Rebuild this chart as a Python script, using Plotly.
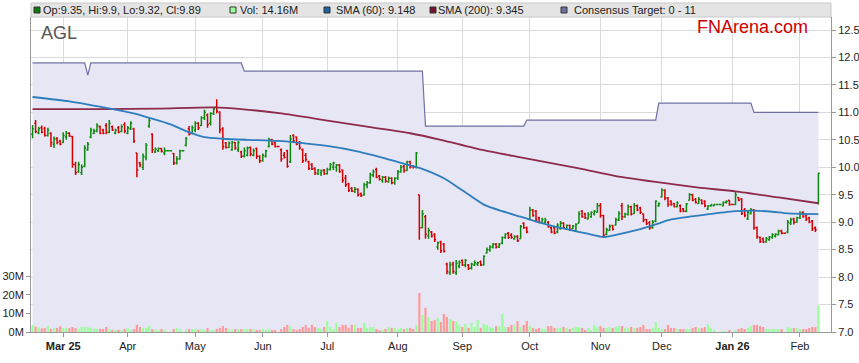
import pandas as pd
import plotly.graph_objects as go

# ---------------- data ----------------
# weekday sessions (exchange holidays appear as flat, zero-volume bars)
dates = pd.bdate_range("2025-02-17", "2026-02-10")

opens = [
    10.60, 10.80, 10.63, 10.72, 10.70, 10.58, 10.62, 10.42, 10.52, 10.48,
    10.45, 10.55, 10.62, 10.56, 10.05, 9.92, 9.90, 10.02, 10.32, 10.55,
    10.62, 10.66, 10.74, 10.68, 10.76, 10.64, 10.74, 10.62, 10.72, 10.65,
    10.78, 10.62, 10.70, 10.70, 10.26, 10.08, 10.00, 10.18, 10.75, 10.60,
    10.28, 10.30, 10.34, 10.26, 10.30, 10.30, 10.25, 10.08, 10.15, 10.30,
    10.40, 10.70, 10.62, 10.68, 10.80, 10.76, 10.90, 10.95, 10.80, 10.98,
    11.10, 11.00, 10.70, 10.44, 10.36, 10.32, 10.45, 10.32, 10.28, 10.20,
    10.22, 10.36, 10.22, 10.34, 10.20, 10.12, 10.20, 10.38, 10.50, 10.45,
    10.38, 10.32, 10.22, 10.30, 10.10, 10.58, 10.55, 10.45, 10.32, 10.22,
    10.10, 10.05, 9.98, 9.88, 9.90, 9.95, 9.88, 9.96, 10.00, 10.00,
    10.04, 9.95, 9.80, 9.70, 9.62, 9.56, 9.60, 9.52, 9.50, 9.68,
    9.72, 9.86, 9.96, 9.84, 9.76, 9.82, 9.74, 9.80, 9.72, 9.80,
    9.92, 10.02, 9.94, 10.10, 10.02, 10.00, 9.50, 8.90, 9.10, 8.75,
    8.82, 8.78, 8.55, 8.64, 8.60, 8.24, 8.08, 8.24, 8.08, 8.20,
    8.30, 8.22, 8.22, 8.16, 8.22, 8.24, 8.28, 8.22, 8.44, 8.50,
    8.55, 8.60, 8.55, 8.62, 8.72, 8.80, 8.76, 8.70, 8.74, 8.70,
    8.98, 8.90, 9.05, 9.22, 9.20, 9.08, 8.99, 9.00, 9.00, 8.90,
    8.90, 8.82, 8.88, 8.98, 8.88, 8.94, 8.88, 8.85, 8.98, 9.20,
    9.15, 9.06, 9.10, 9.15, 9.18, 9.30, 9.12, 8.78, 8.85, 8.94,
    8.95, 9.04, 9.30, 9.10, 9.14, 9.28, 9.16, 9.30, 9.26, 9.15,
    9.05, 8.99, 8.90, 9.02, 9.30, 9.46, 9.58, 9.44, 9.38, 9.34,
    9.28, 9.30, 9.24, 9.20, 9.40, 9.50, 9.42, 9.34, 9.40, 9.38,
    9.24, 9.30, 9.30, 9.32, 9.32, 9.30, 9.36, 9.40, 9.32, 9.32,
    9.45, 9.42, 9.22, 9.06, 9.16, 9.22, 8.90, 8.72, 8.70, 8.64,
    8.68, 8.72, 8.75, 8.77, 8.84, 8.80, 8.82, 8.98, 9.06, 9.00,
    9.08, 9.18, 9.12, 9.08, 9.02, 8.90, 9.35,
]
highs = [
    10.77, 10.86, 10.74, 10.76, 10.74, 10.72, 10.64, 10.56, 10.55, 10.50,
    10.64, 10.66, 10.64, 10.57, 10.10, 10.10, 10.05, 10.40, 10.46, 10.72,
    10.70, 10.80, 10.76, 10.70, 10.80, 10.86, 10.76, 10.70, 10.75, 10.78,
    10.82, 10.75, 10.84, 10.72, 10.26, 10.10, 10.25, 10.44, 10.90, 10.62,
    10.36, 10.36, 10.35, 10.36, 10.30, 10.30, 10.26, 10.20, 10.32, 10.30,
    10.55, 10.75, 10.76, 10.84, 10.82, 10.93, 11.05, 10.98, 11.00, 11.10,
    11.24, 11.02, 10.73, 10.46, 10.47, 10.48, 10.46, 10.48, 10.30, 10.36,
    10.38, 10.38, 10.34, 10.36, 10.22, 10.25, 10.32, 10.54, 10.52, 10.47,
    10.38, 10.34, 10.28, 10.32, 10.59, 10.60, 10.56, 10.48, 10.34, 10.26,
    10.12, 10.08, 10.00, 9.97, 9.96, 9.97, 9.99, 10.08, 10.10, 10.06,
    10.06, 9.96, 9.86, 9.72, 9.64, 9.64, 9.62, 9.54, 9.72, 9.75,
    9.90, 9.96, 9.99, 9.86, 9.84, 9.84, 9.83, 9.82, 9.82, 9.95,
    10.04, 10.04, 10.12, 10.12, 10.04, 10.28, 9.50, 9.22, 9.13, 8.90,
    8.84, 8.80, 8.65, 8.66, 8.62, 8.26, 8.28, 8.28, 8.31, 8.30,
    8.32, 8.33, 8.24, 8.26, 8.30, 8.28, 8.30, 8.40, 8.54, 8.58,
    8.62, 8.62, 8.62, 8.74, 8.80, 8.82, 8.80, 8.76, 8.76, 8.95,
    9.00, 8.92, 9.28, 9.24, 9.22, 9.10, 9.08, 9.08, 9.02, 8.92,
    8.92, 8.98, 9.02, 9.00, 8.96, 8.96, 8.95, 8.98, 9.20, 9.22,
    9.17, 9.18, 9.20, 9.22, 9.35, 9.35, 9.13, 8.90, 8.96, 8.95,
    9.08, 9.20, 9.35, 9.17, 9.32, 9.30, 9.35, 9.32, 9.28, 9.16,
    9.06, 9.02, 9.04, 9.40, 9.36, 9.62, 9.60, 9.46, 9.40, 9.35,
    9.38, 9.32, 9.26, 9.35, 9.53, 9.52, 9.44, 9.46, 9.42, 9.40,
    9.31, 9.32, 9.33, 9.32, 9.32, 9.38, 9.40, 9.40, 9.32, 9.55,
    9.46, 9.44, 9.26, 9.22, 9.26, 9.24, 8.92, 8.74, 8.72, 8.73,
    8.75, 8.80, 8.80, 8.86, 8.86, 8.80, 9.04, 9.08, 9.08, 9.10,
    9.20, 9.20, 9.14, 9.10, 9.04, 8.92, 9.90,
]
lows = [
    10.53, 10.62, 10.60, 10.62, 10.56, 10.56, 10.37, 10.35, 10.42, 10.40,
    10.44, 10.50, 10.55, 9.99, 9.86, 9.90, 9.86, 10.00, 10.30, 10.53,
    10.60, 10.64, 10.60, 10.60, 10.60, 10.62, 10.66, 10.60, 10.62, 10.64,
    10.62, 10.60, 10.68, 10.44, 9.82, 10.00, 9.95, 10.13, 10.72, 10.26,
    10.26, 10.28, 10.27, 10.22, 10.30, 10.30, 10.04, 10.05, 10.14, 10.30,
    10.38, 10.58, 10.60, 10.64, 10.68, 10.75, 10.86, 10.72, 10.76, 10.95,
    10.98, 10.62, 10.32, 10.34, 10.35, 10.30, 10.32, 10.28, 10.17, 10.18,
    10.20, 10.20, 10.20, 10.15, 10.08, 10.10, 10.18, 10.36, 10.40, 10.36,
    10.38, 10.10, 10.16, 9.99, 10.08, 10.44, 10.40, 10.32, 10.08, 10.10,
    9.95, 9.95, 9.86, 9.86, 9.84, 9.86, 9.87, 9.94, 9.95, 9.92,
    9.90, 9.72, 9.64, 9.55, 9.55, 9.53, 9.47, 9.46, 9.48, 9.62,
    9.70, 9.82, 9.80, 9.76, 9.72, 9.72, 9.72, 9.69, 9.68, 9.77,
    9.90, 9.90, 9.93, 9.98, 9.98, 9.98, 8.68, 8.89, 8.70, 8.70,
    8.72, 8.64, 8.50, 8.44, 8.45, 8.05, 8.04, 8.06, 8.04, 8.16,
    8.20, 8.18, 8.13, 8.14, 8.20, 8.20, 8.20, 8.21, 8.43, 8.46,
    8.52, 8.52, 8.53, 8.60, 8.70, 8.70, 8.70, 8.68, 8.64, 8.70,
    8.88, 8.80, 9.04, 9.10, 9.00, 8.98, 8.98, 8.98, 8.90, 8.80,
    8.78, 8.80, 8.86, 8.88, 8.86, 8.84, 8.87, 8.82, 8.98, 9.08,
    9.06, 9.05, 9.08, 9.12, 9.17, 9.08, 8.72, 8.76, 8.84, 8.85,
    8.94, 9.02, 9.04, 9.08, 9.12, 9.12, 9.15, 9.20, 9.15, 9.00,
    8.95, 8.86, 8.88, 9.00, 9.28, 9.45, 9.40, 9.28, 9.30, 9.27,
    9.27, 9.18, 9.18, 9.18, 9.40, 9.38, 9.34, 9.33, 9.32, 9.27,
    9.22, 9.28, 9.29, 9.32, 9.32, 9.29, 9.34, 9.30, 9.32, 9.31,
    9.38, 9.13, 9.09, 9.04, 9.14, 8.86, 8.70, 8.62, 8.62, 8.63,
    8.66, 8.70, 8.72, 8.76, 8.78, 8.80, 8.80, 8.95, 8.96, 8.99,
    9.06, 9.08, 9.02, 8.98, 8.84, 8.82, 9.32,
]
closes = [
    10.70, 10.65, 10.70, 10.64, 10.58, 10.68, 10.45, 10.52, 10.45, 10.42,
    10.58, 10.62, 10.57, 10.05, 9.90, 10.05, 10.00, 10.35, 10.42, 10.68,
    10.66, 10.76, 10.62, 10.62, 10.64, 10.80, 10.68, 10.68, 10.64, 10.74,
    10.66, 10.72, 10.80, 10.48, 9.95, 10.04, 10.20, 10.40, 10.85, 10.32,
    10.33, 10.34, 10.29, 10.30, 10.30, 10.30, 10.08, 10.15, 10.30, 10.30,
    10.52, 10.60, 10.72, 10.80, 10.72, 10.90, 11.00, 10.78, 10.98, 11.06,
    11.02, 10.68, 10.38, 10.36, 10.44, 10.45, 10.35, 10.45, 10.20, 10.30,
    10.35, 10.24, 10.30, 10.20, 10.12, 10.22, 10.30, 10.50, 10.42, 10.38,
    10.38, 10.15, 10.18, 10.02, 10.52, 10.48, 10.42, 10.35, 10.12, 10.14,
    9.98, 9.97, 9.90, 9.95, 9.93, 9.88, 9.96, 10.05, 10.08, 10.04,
    9.92, 9.76, 9.68, 9.58, 9.57, 9.60, 9.50, 9.48, 9.68, 9.72,
    9.86, 9.92, 9.82, 9.78, 9.82, 9.75, 9.80, 9.72, 9.80, 9.92,
    10.00, 9.94, 10.10, 10.00, 10.00, 10.26, 8.90, 9.15, 8.78, 8.85,
    8.75, 8.68, 8.62, 8.48, 8.47, 8.10, 8.22, 8.10, 8.25, 8.27,
    8.22, 8.30, 8.16, 8.24, 8.26, 8.26, 8.22, 8.38, 8.50, 8.55,
    8.60, 8.55, 8.60, 8.72, 8.78, 8.72, 8.72, 8.74, 8.66, 8.92,
    8.90, 8.82, 9.22, 9.12, 9.04, 9.00, 9.05, 9.04, 8.92, 8.82,
    8.80, 8.95, 8.98, 8.90, 8.94, 8.86, 8.93, 8.96, 9.15, 9.10,
    9.08, 9.14, 9.18, 9.20, 9.30, 9.12, 8.76, 8.86, 8.92, 8.87,
    9.05, 9.16, 9.10, 9.15, 9.28, 9.15, 9.30, 9.22, 9.18, 9.04,
    8.97, 8.90, 9.00, 9.38, 9.34, 9.58, 9.44, 9.32, 9.32, 9.28,
    9.35, 9.20, 9.20, 9.33, 9.50, 9.40, 9.36, 9.42, 9.34, 9.30,
    9.30, 9.32, 9.32, 9.32, 9.32, 9.36, 9.38, 9.32, 9.32, 9.50,
    9.40, 9.16, 9.12, 9.18, 9.22, 8.90, 8.74, 8.65, 8.64, 8.70,
    8.73, 8.77, 8.78, 8.84, 8.80, 8.80, 9.00, 9.04, 9.00, 9.08,
    9.16, 9.10, 9.06, 9.00, 8.88, 8.86, 9.89,
]
volumes_m = [
    3.8, 2.9, 2.5, 1.9, 2.1, 3.2, 1.7, 2.0, 2.2, 3.1,
    2.2, 2.2, 2.1, 2.7, 2.1, 1.6, 2.7, 2.7, 2.6, 2.2,
    1.6, 1.6, 1.7, 1.6, 2.7, 1.6, 1.2, 1.1, 1.2, 1.1,
    1.7, 2.2, 1.1, 1.6, 3.8, 2.7, 2.2, 2.2, 3.2, 1.6,
    1.2, 1.1, 1.6, 1.2, 0.0, 0.0, 1.6, 2.2, 1.6, 0.0,
    1.1, 1.6, 1.6, 1.6, 1.2, 1.6, 1.1, 2.2, 1.1, 1.1,
    1.7, 2.2, 3.2, 2.2, 1.6, 1.1, 1.6, 1.6, 1.6, 1.6,
    1.6, 1.6, 1.5, 1.1, 1.1, 1.6, 1.1, 1.6, 1.1, 1.1,
    0.0, 1.6, 2.7, 3.8, 3.2, 1.6, 1.1, 1.6, 2.7, 3.8,
    2.2, 3.8, 2.7, 2.2, 1.6, 2.7, 5.9, 2.7, 1.6, 4.9,
    2.7, 3.8, 3.8, 2.2, 3.8, 3.8, 2.2, 2.2, 4.9, 2.2,
    2.7, 2.7, 1.6, 1.1, 1.1, 1.6, 2.7, 2.2, 2.2, 1.6,
    2.2, 1.6, 2.2, 2.2, 1.6, 3.8, 21.0, 9.2, 13.0, 8.1,
    5.9, 6.5, 7.6, 5.4, 9.7, 8.1, 7.0, 5.9, 5.9, 3.8,
    2.7, 4.3, 2.2, 4.9, 2.7, 6.5, 2.2, 4.3, 3.8, 2.7,
    2.2, 3.1, 3.2, 9.7, 2.7, 2.7, 3.8, 3.8, 5.9, 2.7,
    3.8, 5.9, 3.2, 2.2, 1.6, 2.2, 1.6, 1.6, 3.2, 3.2,
    2.2, 2.2, 2.2, 2.7, 2.2, 1.6, 2.2, 2.7, 2.7, 2.2,
    1.1, 2.2, 1.1, 3.8, 2.7, 3.2, 2.2, 2.2, 2.7, 2.2,
    2.7, 3.2, 3.2, 2.2, 2.2, 2.7, 2.2, 2.2, 2.7, 3.8,
    1.6, 1.6, 2.2, 5.4, 2.2, 1.6, 1.6, 3.8, 2.2, 2.2,
    1.6, 1.6, 1.6, 1.6, 1.6, 2.2, 2.7, 2.2, 2.2, 2.7,
    4.3, 2.2, 1.1, 0.0, 0.0, 0.5, 0.5, 1.1, 0.0, 1.1,
    1.6, 2.2, 1.6, 2.2, 3.2, 3.8, 3.8, 3.2, 2.7, 1.6,
    1.6, 1.6, 1.6, 1.6, 1.6, 0.0, 2.7, 2.2, 2.2, 2.2,
    1.6, 1.6, 1.6, 2.2, 2.7, 2.7, 14.16,
]

sma60_dates = [
    "2025-02-17", "2025-03-05", "2025-03-21", "2025-04-03", "2025-04-10",
    "2025-04-21", "2025-04-28", "2025-05-06", "2025-05-14", "2025-05-26",
    "2025-06-09", "2025-06-19", "2025-07-02", "2025-07-14", "2025-07-24",
    "2025-08-04", "2025-08-12", "2025-08-22", "2025-09-01", "2025-09-10",
    "2025-09-18", "2025-09-26", "2025-10-09", "2025-10-20", "2025-10-27",
    "2025-11-04", "2025-11-10", "2025-11-19", "2025-11-27", "2025-12-04",
    "2025-12-12", "2025-12-23", "2026-01-02", "2026-01-12", "2026-01-20",
    "2026-01-27", "2026-02-10",
]
sma60_vals = [
    11.28, 11.20, 11.08, 10.98, 10.90,
    10.78, 10.66, 10.55, 10.52, 10.50,
    10.48, 10.44, 10.38, 10.30, 10.19,
    10.08, 9.99, 9.80, 9.58, 9.32,
    9.20, 9.10, 8.95, 8.86, 8.80,
    8.73, 8.77, 8.86, 8.96, 9.05,
    9.10, 9.15, 9.20, 9.21, 9.19,
    9.16, 9.148,
]
sma200_dates = [
    "2025-02-17", "2025-03-19", "2025-04-15", "2025-05-09", "2025-05-22",
    "2025-06-10", "2025-06-30", "2025-07-21", "2025-08-07", "2025-08-21",
    "2025-09-09", "2025-09-26", "2025-10-23", "2025-11-10", "2025-12-02",
    "2025-12-17", "2026-01-02", "2026-01-22", "2026-02-10",
]
sma200_vals = [
    11.06, 11.06, 11.07, 11.09, 11.06,
    10.98, 10.86, 10.73, 10.62, 10.50,
    10.32, 10.18, 9.98, 9.84, 9.71,
    9.63, 9.56, 9.45, 9.345,
]
target_dates = [
    "2025-02-17", "2025-03-12", "2025-03-13", "2025-03-14", "2025-05-22",
    "2025-05-23", "2025-08-13", "2025-08-14", "2025-09-29", "2025-09-30",
    "2025-11-27", "2025-11-28", "2026-01-09", "2026-01-12", "2026-02-10",
]
target_vals = [
    11.90, 11.90, 11.68, 11.90, 11.90,
    11.75, 11.75, 10.75, 10.75, 10.86,
    10.86, 11.17, 11.17, 11.00, 11.00,
]
ticker = "AGL"

# ---------------- helpers ----------------
FONT = "Liberation Sans, Arial, sans-serif"
W, H = 859, 363
L, R, T, B = 31, 28, 17, 31
PW, PH = W - L - R, H - T - B

def px(x):  # pixel x -> paper
    return (x - L) / PW

def py(y):  # pixel y -> paper
    return (H - B - y) / PH

pos = {d.strftime("%Y-%m-%d"): i for i, d in enumerate(dates)}
xs = list(range(len(dates)))

tickvals, ticktext = [], []
for i, d in enumerate(dates):
    if i > 0 and d.month != dates[i - 1].month:
        if d.month == 1 or not tickvals:
            ticktext.append("<b>" + d.strftime("%b %y") + "</b>")
        else:
            ticktext.append(d.strftime("%b"))
        tickvals.append(i)

vol_colors = []
for o, c in zip(opens, closes):
    vol_colors.append("#99FF99" if c > o else ("#FF9999" if c < o else "#888888"))

PRICE_RANGE = [7.0, 12.737]

fig = go.Figure()

# consensus target band on the base price axis (drawn underneath everything)
fig.add_trace(go.Scatter(
    x=[pos[d] for d in target_dates], y=target_vals, mode="lines",
    line=dict(color="#7070A4", width=1.2), fill="tozeroy",
    fillcolor="#E6E6F5", hoverinfo="skip", showlegend=False, yaxis="y"))

# volume on its own left axis
fig.add_trace(go.Bar(
    x=xs, y=volumes_m, yaxis="y2", marker=dict(color=vol_colors, line=dict(width=0)),
    showlegend=False))

# price bars and moving averages on an overlay axis with the same scale
fig.add_trace(go.Ohlc(
    x=xs, open=opens, high=highs, low=lows, close=closes, yaxis="y3",
    increasing=dict(line=dict(color="#0A8A0A", width=1.5)),
    decreasing=dict(line=dict(color="#D40000", width=1.5)),
    tickwidth=0.45, showlegend=False))
fig.add_trace(go.Scatter(
    x=[pos[d] for d in sma200_dates], y=sma200_vals, mode="lines", yaxis="y3",
    line=dict(color="#8E2A4A", width=1.8, shape="spline", smoothing=0.6),
    showlegend=False))
fig.add_trace(go.Scatter(
    x=[pos[d] for d in sma60_dates], y=sma60_vals, mode="lines", yaxis="y3",
    line=dict(color="#2E7DBC", width=1.8, shape="spline", smoothing=0.6),
    showlegend=False))

axis_col = "#999999"
grid_col = "#DADADA"
fig.update_layout(
    width=W, height=H, autosize=False,
    margin=dict(l=L, r=R, t=T, b=B, pad=0, autoexpand=False),
    paper_bgcolor="white", plot_bgcolor="white",
    font=dict(family=FONT, size=11, color="#222222"),
    bargap=0.3, showlegend=False,
    xaxis=dict(range=[-0.5, 260.1], tickmode="array", tickvals=tickvals,
               ticktext=ticktext, showgrid=True, gridcolor=grid_col, gridwidth=1,
               showline=True, linecolor=axis_col, linewidth=1, ticks="outside",
               ticklen=4, tickcolor=axis_col, zeroline=False, automargin=False,
               rangeslider=dict(visible=False), fixedrange=True),
    yaxis=dict(side="right", range=PRICE_RANGE, tick0=7.0, dtick=0.5,
               tickformat=".1f", showgrid=True, gridcolor=grid_col,
               showline=True, linecolor=axis_col, linewidth=1, ticks="outside",
               ticklen=4, tickcolor=axis_col, zeroline=False, automargin=False),
    yaxis2=dict(overlaying="y", side="left", range=[0, 169.5],
                tickmode="array", tickvals=[0, 10, 20, 30],
                ticktext=["0M", "10M", "20M", "30M"], showgrid=False,
                showline=True, linecolor=axis_col, linewidth=1, ticks="outside",
                ticklen=4, tickcolor=axis_col, zeroline=False, automargin=False),
    yaxis3=dict(overlaying="y", side="right", range=PRICE_RANGE, visible=False,
                showgrid=False, zeroline=False, automargin=False),
)

shapes = [dict(type="rect", xref="paper", yref="paper", x0=0, x1=1,
               y0=1.0, y1=py(3), fillcolor="#E4E4E4",
               line=dict(color="#C8C8C8", width=1), layer="above")]
legend_items = [
    (34, "#0A7A0A", f"Op:{opens[-1]:g}, Hi:{highs[-1]:g}, Lo:{lows[-1]:g}, Cl:{closes[-1]:g}", 42),
    (230, "#99FF99", f"Vol: {volumes_m[-1]:.2f}M", 239),
    (324, "#1F62A0", f"SMA (60): {sma60_vals[-1]:.3f}", 335),
    (430, "#7A1030", f"SMA (200): {sma200_vals[-1]:.3f}", 437),
    (561, "#6E6EA0", "Consensus Target: 0 - 11", 573),
]
annotations = []
for sx, col, txt, tx in legend_items:
    shapes.append(dict(type="rect", xref="paper", yref="paper",
                       x0=px(sx), x1=px(sx + 6), y0=py(13), y1=py(7),
                       fillcolor=col, line=dict(color="#333333", width=1),
                       layer="above"))
    annotations.append(dict(xref="paper", yref="paper", x=px(tx), y=py(10),
                            xanchor="left", yanchor="middle", text=txt,
                            showarrow=False, borderpad=0,
                            font=dict(family=FONT, size=11, color="#222222")))

annotations.append(dict(xref="paper", yref="paper", x=px(40), y=py(32.5),
                        xanchor="left", yanchor="middle", text=ticker,
                        showarrow=False, borderpad=0,
                        font=dict(family=FONT, size=18, color="#555555")))
annotations.append(dict(xref="paper", yref="paper", x=px(809), y=py(27),
                        xanchor="right", yanchor="middle", text="FNArena.com",
                        showarrow=False, borderpad=0,
                        font=dict(family=FONT, size=18, color="#CC0000")))

fig.update_layout(shapes=shapes, annotations=annotations)
fig.write_html("out.html",
               config={"displayModeBar": False, "staticPlot": True},
               post_script="document.body.style.margin='0px';"
                           "document.body.style.padding='0px';")
